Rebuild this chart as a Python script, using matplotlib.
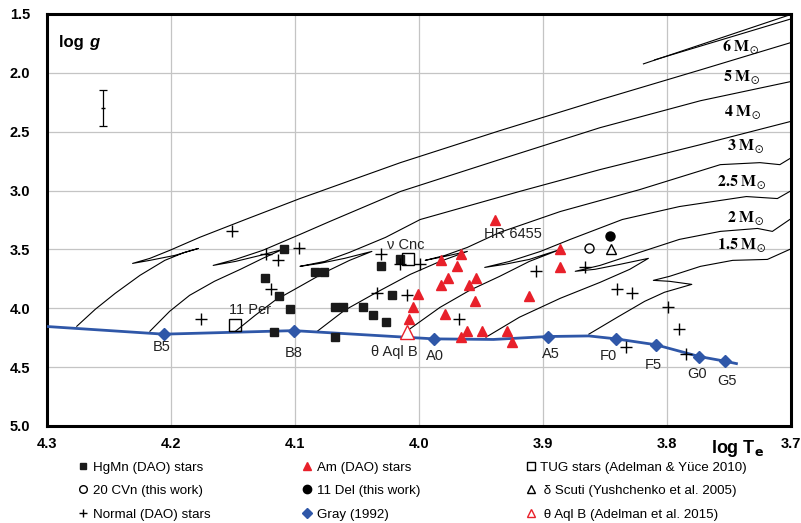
import numpy as np
import matplotlib
matplotlib.use("Agg")
import matplotlib.pyplot as plt
from matplotlib.lines import Line2D

plt.rcParams['font.family'] = ['Liberation Sans', 'DejaVu Sans']

# --- stars (log Te, log g) ---
hgmn_t = [4.109, 4.124, 4.113, 4.104, 4.117, 4.084, 4.077, 4.031, 4.015,
          4.068, 4.061, 4.045, 4.037, 4.027, 4.022, 4.068]
hgmn_g = [3.50, 3.74, 3.90, 4.01, 4.20, 3.69, 3.69, 3.64, 3.58,
          3.99, 3.99, 3.99, 4.06, 4.12, 3.89, 4.24]

am_t = [3.939, 3.982, 3.966, 3.969, 3.977, 3.982, 3.954, 3.960, 4.001, 3.955,
        3.911, 4.005, 3.979, 4.008, 3.961, 3.966, 3.949, 3.929, 3.925, 3.886, 3.886]
am_g = [3.25, 3.59, 3.54, 3.64, 3.74, 3.80, 3.74, 3.80, 3.88, 3.94,
        3.90, 3.99, 4.05, 4.09, 4.19, 4.24, 4.19, 4.19, 4.29, 3.50, 3.65]

normal_t = [4.151, 4.176, 4.123, 4.114, 4.097, 4.119, 4.031, 4.015, 3.999, 4.034,
            4.010, 3.968, 3.906, 3.866, 3.840, 3.828, 3.799, 3.833, 3.790, 3.785]
normal_g = [3.34, 4.09, 3.54, 3.59, 3.49, 3.84, 3.54, 3.62, 3.62, 3.87,
            3.89, 4.09, 3.68, 3.65, 3.84, 3.87, 3.99, 4.33, 4.18, 4.39]

tug_t = [4.148, 4.009]
tug_g = [4.14, 3.58]

cvn20 = (3.863, 3.49)
del11 = (3.846, 3.39)
dsct = (3.845, 3.50)
thaqlb = (4.010, 4.20)

star_names = ['11 Per', 'ν Cnc', 'HR 6455', 'θ Aql B']
star_lab_t = [4.136, 4.011, 3.924, 4.020]
star_lab_g = [4.014, 3.466, 3.373, 4.370]

# Gray (1992) calibration
gray_sp = ['B5', 'B8', 'A0', 'A5', 'F0', 'F5', 'G0', 'G5']
gray_t = [4.206, 4.101, 3.988, 3.896, 3.841, 3.809, 3.774, 3.753]
gray_g = [4.22, 4.19, 4.26, 4.24, 4.26, 4.31, 4.41, 4.45]
gray_lab_t = [4.2075, 4.1014, 3.987, 3.894, 3.847, 3.811, 3.776, 3.752]
gray_lab_g = [4.333, 4.381, 4.409, 4.390, 4.404, 4.480, 4.559, 4.620]
gray_line_t = [4.30, 4.206, 4.101, 3.988, 3.94, 3.896, 3.863, 3.841, 3.809, 3.774, 3.753, 3.744]
gray_line_g = [4.155, 4.22, 4.19, 4.26, 4.265, 4.24, 4.235, 4.26, 4.31, 4.41, 4.45, 4.47]

# evolutionary tracks
tracks = {
    '6': ([4.276, 4.261, 4.245, 4.225, 4.205, 4.189, 4.178, 4.197, 4.217, 4.231,
           4.217, 4.201, 4.177, 4.140, 4.096, 4.015, 3.935, 3.854, 3.773, 3.701],
          [4.153, 4.008, 3.873, 3.720, 3.593, 3.525, 3.492, 3.551, 3.593, 3.619,
           3.576, 3.508, 3.398, 3.246, 3.068, 2.763, 2.492, 2.229, 1.975, 1.746]),
    '5': ([4.217, 4.201, 4.185, 4.165, 4.144, 4.126, 4.110, 4.128, 4.148, 4.166,
           4.148, 4.126, 4.096, 4.072, 4.015, 3.935, 3.854, 3.773, 3.701],
          [4.195, 4.025, 3.890, 3.771, 3.669, 3.576, 3.500, 3.551, 3.602, 3.636,
           3.585, 3.508, 3.373, 3.263, 3.008, 2.737, 2.466, 2.237, 2.076]),
    '4': ([4.148, 4.132, 4.116, 4.096, 4.076, 4.056, 4.038, 4.060, 4.080, 4.096,
           4.076, 4.056, 4.027, 3.999, 3.919, 3.854, 3.773, 3.701],
          [4.195, 4.059, 3.932, 3.814, 3.695, 3.593, 3.517, 3.576, 3.619, 3.644,
           3.602, 3.525, 3.398, 3.246, 3.008, 2.822, 2.610, 2.415]),
    '3': ([4.082, 4.060, 4.034, 4.007, 3.983, 3.961, 3.979, 3.995,
           3.979, 3.961, 3.935, 3.886, 3.822, 3.757, 3.725, 3.709, 3.701],
          [4.195, 4.017, 3.864, 3.712, 3.602, 3.517, 3.559, 3.593,
           3.551, 3.483, 3.356, 3.178, 2.992, 2.780, 2.763, 2.780, 2.729]),
    '2.5': ([4.010, 3.983, 3.959, 3.935, 3.911, 3.886, 3.911, 3.931, 3.947,
             3.927, 3.902, 3.878, 3.836, 3.790, 3.736, 3.711, 3.701],
            [4.195, 3.992, 3.847, 3.729, 3.602, 3.500, 3.585, 3.627, 3.653,
             3.602, 3.517, 3.415, 3.246, 3.136, 3.051, 3.068, 3.008]),
    '2': ([3.946, 3.919, 3.886, 3.854, 3.830, 3.815, 3.838, 3.858, 3.874,
           3.854, 3.822, 3.790, 3.757, 3.727, 3.715, 3.701],
          [4.246, 4.076, 3.915, 3.780, 3.669, 3.576, 3.627, 3.669, 3.686,
           3.636, 3.525, 3.415, 3.347, 3.322, 3.347, 3.246]),
    '1.5': ([3.863, 3.840, 3.818, 3.802, 3.780, 3.798, 3.811,
             3.798, 3.773, 3.747, 3.719, 3.701],
            [4.220, 4.076, 3.941, 3.864, 3.797, 3.771, 3.763,
             3.729, 3.644, 3.593, 3.585, 3.500]),
}
mass_lab = ['6', '5', '4', '3', '2.5', '2', '1.5']
mass_lab_t = [3.741, 3.740, 3.739, 3.737, 3.740, 3.737, 3.740]
mass_lab_g = [1.780, 2.034, 2.331, 2.627, 2.932, 3.237, 3.466]

# a higher-mass branch in the upper right corner
upper_t = [[3.819, 3.700], [3.810, 3.700]]
upper_g = [[1.924, 1.504], [1.890, 1.542]]

xt = np.arange(4.3, 3.65, -0.1)
yt = np.arange(1.5, 5.01, 0.5)

fig = plt.figure(figsize=(8.01, 5.23), dpi=100)
ax = fig.add_axes([0.0587, 0.1855, 0.9288, 0.7878])

ax.set_xlim(4.3, 3.7)
ax.set_ylim(5.0, 1.5)
ax.set_xticks(xt)
ax.set_yticks(yt)
ax.set_xticklabels(['%.1f' % v for v in xt], fontweight='bold', fontsize=10.5)
ax.set_yticklabels(['%.1f' % v for v in yt], fontweight='bold', fontsize=10.5)
ax.tick_params(length=0, pad=8)
ax.tick_params(axis='y', pad=12)
ax.grid(True, color='#c4c4c4', lw=0.9)
ax.set_axisbelow(True)
for s in ax.spines.values():
    s.set_linewidth(2.2)

for k, (tt, gg) in tracks.items():
    ax.plot(tt, gg, color='black', lw=0.8, zorder=2)
for tt, gg in zip(upper_t, upper_g):
    ax.plot(tt, gg, color='black', lw=0.8, zorder=2)
for t, g, m in zip(mass_lab_t, mass_lab_g, mass_lab):
    ax.text(t, g, r'$\mathbf{%s\ M}_{\odot}$' % m, fontsize=11.5, ha='center', va='center',
            math_fontfamily='stix', zorder=4)

ax.plot(gray_line_t, gray_line_g, color='#2f57a8', lw=2.0, zorder=3)
ax.plot(gray_t, gray_g, 'D', color='#2f57a8', ms=6, zorder=4)
for sp, t, g in zip(gray_sp, gray_lab_t, gray_lab_g):
    ax.text(t, g, sp, fontsize=10.5, ha='center', va='center', color='#222222')

ax.plot(hgmn_t, hgmn_g, 's', color='#1a1a1a', ms=6, zorder=5)
ax.plot(am_t, am_g, '^', color='#e8202a', ms=7.5, zorder=5)
ax.plot(normal_t, normal_g, '+', color='black', ms=8, mew=1.0, zorder=5)
ax.plot(tug_t, tug_g, 's', mfc='none', mec='black', ms=9, mew=1.0, zorder=5)
ax.plot(*cvn20, 'o', mfc='none', mec='black', ms=6.5, mew=1.0, zorder=5)
ax.plot(*del11, 'o', color='black', ms=6.5, zorder=5)
ax.plot(*dsct, '^', mfc='none', mec='black', ms=7.5, mew=1.0, zorder=5)
ax.plot(*thaqlb, '^', mfc='white', mec='#e8202a', ms=10, mew=1.0, zorder=5)

for name, t, g in zip(star_names, star_lab_t, star_lab_g):
    ax.text(t, g, name, fontsize=10.5, ha='center', va='center', color='#222222')

# typical uncertainty
ax.errorbar([4.255], [2.30], yerr=[0.15], fmt='none', ecolor='black', elinewidth=0.9,
            capsize=3, capthick=0.9)
ax.plot([4.255], [2.30], '_', color='black', ms=3)

ax.text(4.290, 1.743, 'log ', fontsize=12, fontweight='bold', ha='left', va='center')
ax.text(4.266, 1.743, 'g', fontsize=12, fontweight='bold', style='italic', ha='left', va='center')

fig.text(0.888, 0.143, r'log T$_\mathbf{e}$', fontsize=13, fontweight='bold', ha='left', va='center')

col_handles = [
    [Line2D([], [], ls='none', marker='s', color='#1a1a1a', ms=5),
     Line2D([], [], ls='none', marker='o', mfc='none', mec='black', ms=5.5),
     Line2D([], [], ls='none', marker='+', color='black', ms=6)],
    [Line2D([], [], ls='none', marker='^', color='#e8202a', ms=6),
     Line2D([], [], ls='none', marker='o', color='black', ms=6),
     Line2D([], [], ls='none', marker='D', color='#2f57a8', ms=5)],
    [Line2D([], [], ls='none', marker='s', mfc='none', mec='black', ms=6),
     Line2D([], [], ls='none', marker='^', mfc='none', mec='black', ms=6),
     Line2D([], [], ls='none', marker='^', mfc='none', mec='#e8202a', ms=6)],
]
col_labels = [
    ['HgMn (DAO) stars', '20 CVn (this work)', 'Normal (DAO) stars'],
    ['Am (DAO) stars', '11 Del (this work)', 'Gray (1992)'],
    ['TUG stars (Adelman & Yüce 2010)', ' δ Scuti (Yushchenko et al. 2005)',
     ' θ Aql B (Adelman et al. 2015)'],
]
col_x = [0.0974, 0.377, 0.656]
for hs, ls, x0 in zip(col_handles, col_labels, col_x):
    fig.legend(hs, ls, loc='upper left', bbox_to_anchor=(x0, 0.118),
               frameon=False, fontsize=9.6, handlelength=0.8, handletextpad=0.3,
               labelspacing=0.84, borderpad=0, borderaxespad=0)

fig.savefig('out.png', dpi=100)
